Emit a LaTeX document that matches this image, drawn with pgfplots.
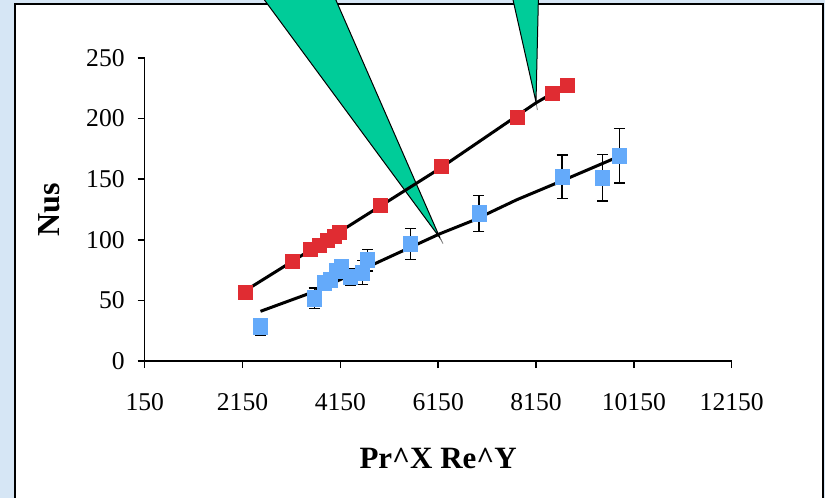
\documentclass[border=0pt]{standalone}
\usepackage{fontspec}
\setmainfont{Liberation Serif}
\usepackage{pgfplots}
\pgfplotsset{compat=1.18}

\definecolor{ptred}{RGB}{224,44,50}
\definecolor{ptblue}{RGB}{100,170,250}
\definecolor{callgreen}{RGB}{0,204,153}
\definecolor{bgblue}{RGB}{214,230,245}

\begin{document}
\begin{tikzpicture}
% page: 825 x 498 px, 1 px = 0.5 pt
\useasboundingbox (0,0) rectangle (412.5pt,-249pt);
\fill[bgblue] (0,0) rectangle (412.5pt,-249pt);
\filldraw[fill=white, draw=black, line width=0.8pt] (7.5pt,-2pt) rectangle (411.4pt,-252pt);

% callout wedges
\filldraw[fill=callgreen, draw=black, line width=0.5pt]
  (131.5pt,1pt) -- (220pt,-119pt) -- (167.5pt,1pt) -- cycle;
\draw[gray, line width=0.4pt] (220pt,-119pt) -- (221.5pt,-121.8pt);
\filldraw[fill=callgreen, draw=black, line width=0.5pt]
  (256.3pt,1pt) -- (268pt,-51pt) -- (269.2pt,1pt) -- cycle;
\draw[gray, line width=0.4pt] (268pt,-51pt) -- (268.7pt,-55pt);

\begin{axis}[
    at={(72.35pt,-180.5pt)}, anchor=south west,
    scale only axis,
    width=293.5pt, height=151.5pt,
    xmin=150, xmax=12150,
    ymin=0, ymax=250,
    xtick={150,2150,4150,6150,8150,10150,12150},
    ytick={0,50,100,150,200,250},
    axis x line=bottom, axis y line=left,
    axis line style={-, line width=0.75pt},
    tick align=outside,
    major tick length=3.5pt,
    tick style={black, line width=0.75pt},
    scaled ticks=false,
    /pgf/number format/1000 sep={},
    /pgf/number format/assume math mode=true,
    tick label style={font=\fontsize{12.8}{14}\selectfont},
    yticklabel style={xshift=-3pt},
    xticklabel style={yshift=-9pt},
    xlabel={Pr\^{}X Re\^{}Y},
    ylabel={Nus},
    every axis x label/.style={at={(axis description cs:0.5,0)}, yshift=-48.5pt, anchor=center,
      font=\fontsize{15.5}{18}\selectfont\bfseries},
    every axis y label/.style={at={(axis description cs:0,0.5)}, xshift=-47.9pt, rotate=90, anchor=center,
      font=\fontsize{16}{18}\selectfont\bfseries},
    clip=false,
]
% red series
\addplot[only marks, mark=square*, mark size=3.5pt, color=ptred] coordinates {
  (2206,56.6) (3173,81.9) (3540,92) (3723,95.6) (3885,99.2) (4024,103)
  (4132,106) (4960,128) (6207,160.2) (7768,200.9) (8488,221.2) (8790,227.5)
};
% blue series with error bars
\addplot[only marks, mark=square*, mark size=3.5pt, color=ptblue,
  mark options={yscale=1.12},
  error bars/.cd, y dir=both, y explicit,
  error bar style={black, line width=0.6pt},
  error mark options={black, mark size=2.75pt, line width=0.6pt, rotate=90}]
  coordinates {
  (2517,28.3) +- (0,7)
  (3615,51.7) +- (0,8.5)
  (3815,64.5) +- (0,4)
  (3938,66.8) +- (0,4)
  (4060,74.4) +- (0,4)
  (4177,77.2) +- (0,4)
  (4361,69.5) +- (0,7)
  (4606,72.8) +- (0,10)
  (4708,83.3) +- (0,9)
  (5583,96.5) +- (0,12.5)
  (6982,121.8) +- (0,14.7)
  (8682,151.9) +- (0,18)
  (9511,151.1) +- (0,19)
  (9856,169.3) +- (0,22.5)
};
% trend lines
\addplot[black, line width=1.5pt, no marks] coordinates {
  (2206,58) (4150,107) (6150,158) (8150,213) (8790,228)
};
\addplot[black, line width=1.5pt, no marks] coordinates {
  (2517,41) (3600,57) (6186,105) (6867,116) (7754,133) (8700,149) (9800,168)
};
\end{axis}
\end{tikzpicture}
\end{document}
